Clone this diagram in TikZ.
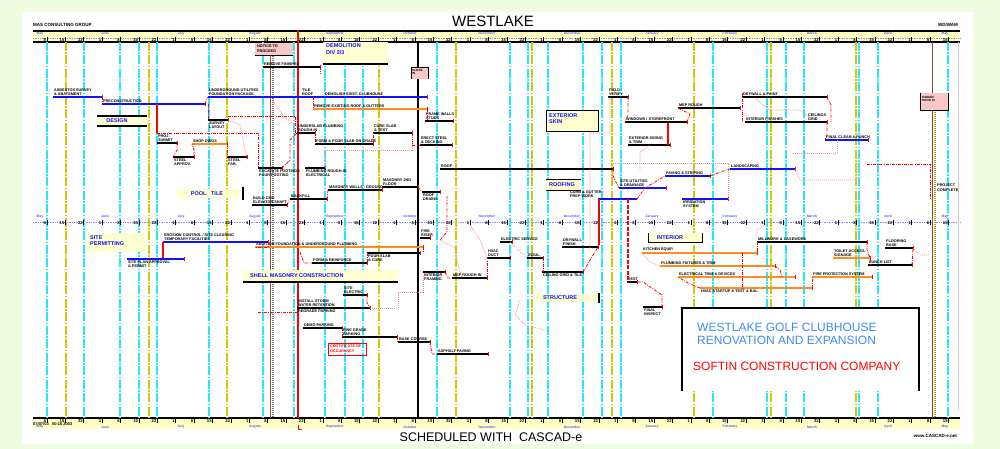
\documentclass[tikz,border=0pt]{standalone}
\usepackage{fontspec}
\setmainfont{Liberation Sans}
\definecolor{bgc}{HTML}{F0FCE0}
\definecolor{cy}{HTML}{22E8FF}
\definecolor{ol}{HTML}{CCCC00}
\definecolor{bandy}{HTML}{FFFFC4}
\definecolor{boxy}{HTML}{FFFFD0}
\definecolor{pinkf}{HTML}{F8C8C8}
\definecolor{og}{HTML}{FF8C1E}
\definecolor{bl}{HTML}{1010FF}
\definecolor{lblue}{HTML}{3C8CF0}
\definecolor{brn}{HTML}{8B4A3A}
\newcommand\gbA[5]{\draw[#1] (#2,#4) -- (#3,#4); \draw[red,line width=0.7pt] (#3,#4-1.8) -- (#3,#4+1.8); \node[lab,anchor=south west] at (#2+1,#4-1.3) {#5};}
\newcommand\gbU[5]{\draw[#1] (#2,#4) -- (#3,#4); \draw[red,line width=0.7pt] (#3,#4-1.8) -- (#3,#4+1.8); \node[lab,anchor=north west] at (#2+1,#4+1.7) {#5};}
\begin{document}
\begin{tikzpicture}[x=1pt,y=-1pt,
 lab/.style={font=\fontsize{3.8}{4.2}\selectfont\bfseries, inner sep=0pt, align=left, text=black},
 kb/.style={line width=1.5pt,black},
 kbb/.style={line width=2.2pt,black},
 bb/.style={line width=1.8pt,bl},
 ob/.style={line width=1.8pt,og},
 obb/.style={line width=2.4pt,og},
 rdc/.style={red,line width=0.8pt,dash pattern=on 3pt off 1.2pt on 0.8pt off 1.2pt},
 pdc/.style={red!45,line width=0.7pt,dash pattern=on 1pt off 1pt},
 cyl/.style={cy,line width=1.3pt,dash pattern=on 9pt off 1.5pt on 1.5pt off 1.5pt},
 oll/.style={ol,line width=1.4pt,dash pattern=on 9pt off 1.5pt on 1.5pt off 1.5pt},
 boxt/.style={font=\fontsize{5.5}{6.5}\selectfont\bfseries, text=bl, inner sep=0pt, align=left},
 mon/.style={font=\fontsize{3.4}{3.6}\selectfont\bfseries, text=bl!70, inner sep=0pt},
 tck/.style={font=\fontsize{4.2}{4.4}\selectfont\bfseries, inner sep=0pt}
]
\useasboundingbox (0,0) rectangle (1000,449);
\fill[bgc] (0,0) rectangle (1000,449);
\fill[white] (22,12) rectangle (973,444);

% header / footer texts
\node[font=\fontsize{15}{15}\selectfont] (title) at (493,21) {WESTLAKE};
\node[font=\fontsize{4.5}{5}\selectfont\bfseries, anchor=west, inner sep=0] (firm) at (33,24.5) {MAS CONSULTING GROUP};
\node[font=\fontsize{4.5}{5}\selectfont\bfseries, anchor=east, inner sep=0] (code) at (958,24.5) {WD/WAM};
\node[font=\fontsize{12.5}{13}\selectfont] (sched) at (491,437) {SCHEDULED WITH\ \ CASCAD-e};
\node[font=\fontsize{4.5}{5}\selectfont\bfseries, anchor=east, inner sep=0] (web) at (957,436) {www.CASCAD-e.net};

% bands
\fill[bandy] (33,31) rectangle (960,42);
\fill[bandy] (33,418) rectangle (960,429);
\draw[line width=1.2pt] (33,31) -- (960,31);
\draw[line width=1.5pt] (33,42) -- (960,42);
\draw[line width=1.5pt] (33,418) -- (960,418);
\draw[bl!50,densely dotted,line width=0.7pt] (33,38.5) -- (960,38.5);
\draw[bl!50,densely dotted,line width=0.7pt] (33,222.5) -- (960,222.5);
\node[font=\fontsize{4}{4.5}\selectfont\bfseries, anchor=west, inner sep=0] (date) at (33,424.5) {07/07/03\ \ \ 00:16 2003};

% grid lines
\foreach \x in {47,84,120,139,157,209,263,294,325,345,363,437,510,528,548,583,602,621,713,767,786,804,859,878,948}
  \draw[cyl] (\x,42) -- (\x,418);
\foreach \x in {66,227,379,456,532,612,694,771,856}
  \draw[oll] (\x,42) -- (\x,418);
\draw[oll,line width=2.2pt] (149,42) -- (149,418);
\draw[black!20,line width=1pt] (958,42) -- (958,410);

% ticks and date numbers
\foreach \x [count=\i] in {47,65.4,...,950} {
  \pgfmathtruncatemacro\d{mod(\i*7,28)+1}
  \draw[line width=1pt] (\x,37.5) -- (\x,42);
  \node[tck,anchor=east] at (\x-0.8,39.8) {\d};
  \draw[line width=1pt] (\x,220) -- (\x,225);
  \node[tck,anchor=east] at (\x-0.8,223) {\d};
  \draw[line width=1pt] (\x,418) -- (\x,422.5);
  \node[tck,anchor=east] at (\x-0.8,420.6) {\d};
}
\foreach \x/\m in {40/May,105/June,181/July,255/August,335/September,410/October,487/November,572/December,652/January,730/February,812/March,888/April,945/May} {
  \node[mon] at (\x,33.5) {\m};
  \node[mon] at (\x,216.5) {\m};
  \node[mon] at (\x,427) {\m};
}

% special vertical lines
\draw[brn,line width=0.9pt] (270,56) -- (270,418);
\draw[black!55,line width=1.8pt,dash pattern=on 1pt off 1pt] (272.6,56) -- (272.6,418);
\draw[red,line width=1.3pt] (298,30) -- (298,418);
\draw[red,line width=0.8pt] (298,425) -- (298,429) -- (302,429);
\draw[black,line width=2pt] (418,42) -- (418,418);
\draw[brn,line width=0.9pt] (932,42) -- (932,93);
\draw[brn,line width=0.9pt] (932,110) -- (932,418);
\draw[ol!80!black,line width=1.8pt,dash pattern=on 1pt off 1pt] (934.6,110) -- (934.6,418);

% pink milestone boxes
\fill[pinkf] (255,43) rectangle (293,56);
\draw[line width=1pt] (255,56) -- (293,56);
\node[lab,anchor=north west] (ms1) at (257,45) {NOTICE TO\\PROCEED};
\fill[pinkf] (411,67) rectangle (428,79);
\draw[line width=0.8pt] (411,79) -- (411,67) -- (428,67) -- (428,79);
\node[lab,anchor=north west,font=\fontsize{3}{3.4}\selectfont\bfseries] (ms2) at (412,69) {CLOSE\\IN};
\fill[pinkf] (920,93) rectangle (948,110);
\draw[line width=0.8pt] (920,93) -- (920,110) -- (948,110) -- (948,93);
\node[lab,anchor=north west,font=\fontsize{3}{3.4}\selectfont\bfseries] (ms3) at (922,96) {OWNER\\MOVE IN};
\node[lab,anchor=north west] (ms4) at (937,184) {PROJECT\\COMPLETE};

% yellow section boxes
\fill[boxy] (323,42) rectangle (388,64);
\draw[line width=1.2pt] (323,64) -- (388,64);
\node[boxt,anchor=north west] (demo) at (326,43.5) {DEMOLITION\\DIV 2/3};
\fill[boxy] (97,116) rectangle (147,126);
\draw[line width=1.2pt] (97,116) -- (147,116) (97,126) -- (147,126);
\node[boxt] (design) at (117,121) {DESIGN};
\fill[boxy] (177,189) rectangle (241,198);
\draw[line width=1.2pt] (243,187) -- (243,200);
\node[boxt] (tile) at (207,193.5) {POOL\ \ \ TILE};
\fill[boxy] (87,233) rectangle (145,252);
\node[boxt,anchor=north west] (permit) at (90,235) {SITE\\PERMITTING};
\fill[boxy] (243,270) rectangle (398,281);
\draw[line width=1.2pt] (243,282) -- (398,282);
\node[boxt,anchor=west] (shell) at (250,275.5) {SHELL MASONRY CONSTRUCTION};
\fill[boxy] (546,111) rectangle (598,132);
\draw[line width=1pt] (546,111) rectangle (598,132);
\node[boxt,anchor=north west] (ext) at (549,113) {EXTERIOR\\SKIN};
\fill[boxy] (546,179) rectangle (581,190);
\draw[line width=1pt] (546,179) -- (581,179) (546,190) -- (581,190);
\node[boxt] (roof) at (562,184.5) {ROOFING};
\fill[boxy] (648,233) rectangle (702,242);
\draw[line width=1pt] (648,233) -- (648,242) -- (702,242) -- (702,233);
\node[boxt] (int) at (670,237.5) {INTERIOR};
\fill[boxy] (535,294) rectangle (597,302);
\draw[line width=1.2pt] (599,293) -- (599,303);
\node[boxt] (struct) at (560,298) {STRUCTURE};
\draw[red,line width=0.8pt] (328,343) rectangle (366,355);
\node[lab,text=red,anchor=north west] (redbox) at (330,345) {CERTIFICATE OF\\OCCUPANCY};

% ---- bars: top area
\gbA{bb}{53}{102}{97}{ASBESTOS SURVEY\\\& ABATEMENT}
\gbA{bb}{102}{205}{104}{PRECONSTRUCTION}
\gbA{bb}{208}{427}{97}{UNDERGROUND UTILITIES\\FOUNDATION PACKAGE}
\node[lab,anchor=south west] (l1) at (302,95.5) {TILE\\ROOF};
\node[lab,anchor=south west] (l2) at (325,95.5) {DEMOLISH EXIST. CLUBHOUSE};
\gbA{ob}{313}{427}{109}{REMOVE EXISTING ROOF \& GUTTERS}
\gbA{kbb}{263}{320}{67}{REMOVE FINISHES}
\gbU{kb}{208}{228}{120}{SURVEY\\LAYOUT}
\gbA{kb}{157}{177}{143}{PROJ.\\SUBMIT}
\gbA{ob}{192}{227}{144}{SHOP DWGS}
\gbU{kb}{173}{194}{157}{STEEL\\APPROV.}
\gbU{kb}{227}{247}{157}{STEEL\\FAB.}
\gbU{kb}{258}{282}{168}{EXCAVATE FOOTINGS\\POUR FOOTING}
\gbA{kb}{297}{315}{133}{UNDERSLAB PLUMBING\\ROUGH-IN}
\gbA{kb}{315}{373}{144}{FORM \& POUR SLAB ON GRADE}
\gbA{kb}{373}{412}{133}{CURE SLAB\\\& TEST}
\gbA{kb}{420}{452}{145}{ERECT STEEL\\\& DECKING}
\gbA{kb}{425}{453}{121}{FRAME WALLS\\STUDS}
\gbU{kb}{305}{325}{168}{PLUMBING ROUGH-IN\\ELECTRICAL}
\gbA{kbb}{328}{382}{190}{MASONRY WALLS - GROUND}
\gbA{kb}{382}{418}{187}{MASONRY 2ND\\FLOOR}
\gbA{kb}{290}{327}{199}{BACKFILL}
\gbA{kbb}{252}{287}{205}{BUILD CMU\\ELEVATOR SHAFT}
\gbA{kb}{440}{613}{169}{ROOF}
\gbU{kb}{422}{440}{192}{ROOF\\DRAINS}
\gbA{kb}{608}{628}{97}{FIELD\\VERIFY}
\gbA{kb}{678}{740}{108}{MEP ROUGH}
\gbA{kb}{742}{827}{97}{DRYWALL \& PAINT}
\gbA{kb}{625}{687}{122}{WINDOWS / STOREFRONT}
\gbA{kb}{628}{670}{145}{EXTERIOR SIDING\\\& TRIM}
\gbA{kb}{745}{827}{122}{INTERIOR FINISHES}
\node[lab,anchor=south west] (l3) at (808,120.5) {CEILINGS\\GRID};
\gbA{bb}{825}{868}{140}{FINAL CLEAN \& PUNCH}
\gbA{bb}{730}{795}{169}{LANDSCAPING}
\gbA{bb}{665}{710}{176}{PAVING \& STRIPING}
\gbA{bb}{619}{666}{188}{SITE UTILITIES\\\& DRAINAGE}
\draw[bb] (598,199) -- (637,199);
\node[lab,anchor=south west] (l4) at (570,197.8) {CURB \& GUTTER\\PREP WORK};
\gbU{bb}{682}{728}{199}{IRRIGATION\\SYSTEM}

% ---- bars: lower area
\gbA{bb}{163}{268}{242}{EROSION CONTROL / SITE CLEARING\\TEMPORARY FACILITIES}
\gbU{bb}{127}{184}{259}{SITE PLAN APPROVAL\\\& PERMIT}
\gbA{ob}{255}{423}{247}{ADDITION FOUNDATION \& UNDERGROUND PLUMBING}
\gbU{kb}{367}{420}{253}{POUR SLAB\\\& CURE}
\gbA{kb}{312}{367}{263}{FORM \& REINFORCE}
\gbA{kb}{343}{367}{295}{SITE\\ELECTRIC}
\gbA{kb}{297}{370}{308}{INSTALL STORM\\WATER RETENTION}
\node[lab,anchor=north west] (l5) at (298,310) {REGRADE PARKING};
\gbA{kb}{303}{342}{328}{DEMO PARKING}
\gbA{kb}{342}{397}{337}{FINE GRADE\\PARKING}
\gbA{kb}{398}{430}{342}{BASE COURSE}
\gbA{kb}{437}{488}{354}{ASPHALT PAVING}
\gbU{kb}{423}{445}{272}{INTERIOR\\FRAMING}
\gbA{kb}{452}{487}{278}{MEP ROUGH-IN}
\gbA{kb}{420}{430}{238}{FIRE\\RISER}
\gbA{kb}{487}{510}{258}{HVAC\\DUCT}
\gbA{kb}{500}{512}{242}{ELECTRIC SERVICE}
\gbA{kb}{562}{598}{247}{DRYWALL\\FINISH}
\gbA{kb}{527}{543}{258}{INSUL.}
\gbU{kb}{542}{583}{272}{CEILING GRID \& TILE}
\gbA{kb}{627}{637}{282}{TEST}
\gbU{kb}{643}{662}{307}{FINAL\\INSPECT}
\gbA{kb}{757}{867}{242}{MILLWORK \& CASEWORK}
\gbA{kb}{885}{913}{248}{FLOORING\\BASE}
\gbA{kb}{868}{912}{265}{PUNCH LIST}
\gbA{ob}{642}{757}{253}{KITCHEN EQUIP.}
\gbA{ob}{660}{775}{266}{PLUMBING FIXTURES \& TRIM}
\gbA{obb}{678}{795}{277}{ELECTRICAL TRIM \& DEVICES}
\gbU{ob}{700}{812}{288}{HVAC STARTUP \& TEST \& BAL.}
\gbA{ob}{812}{872}{277}{FIRE PROTECTION SYSTEM}
\gbA{ob}{833}{870}{258}{TOILET ACCESS.\\SIGNAGE}

% ---- solid red links
\draw[red,line width=1.1pt] (157,104) -- (157,133);
\draw[red,line width=1.1pt] (163,242) -- (163,258);
\draw[red,line width=1.1pt] (599,199) -- (599,245);
\draw[red,line width=1.1pt,dash pattern=on 4pt off 1.5pt] (628,199) -- (628,283);
\draw[red,line width=1.1pt] (668,123) -- (668,145);

% ---- dashed red links
\draw[rdc] (102,97) -- (102,104);
\draw[rdc] (205,104) -- (208,97);
\draw[rdc] (208,104) -- (208,120);
\draw[rdc] (228,116) -- (295,116) -- (295,133) -- (297,133);
\draw[rdc] (157,133) -- (258,133) -- (258,168);
\draw[rdc] (177,143) -- (177,150) -- (173,157);
\draw[rdc] (194,157) -- (194,150) -- (192,144);
\draw[rdc] (227,144) -- (227,157);
\draw[rdc] (320,67) -- (320,74);
\draw[rdc] (313,97) -- (313,109);
\draw[rdc] (427,109) -- (427,121);
\draw[rdc] (282,168) -- (290,160) -- (290,140) -- (297,133);
\draw[rdc] (315,133) -- (315,144);
\draw[rdc] (373,144) -- (373,133);
\draw[rdc] (412,133) -- (412,145) -- (420,145);
\draw[rdc] (382,190) -- (382,187);
\draw[rdc] (418,187) -- (422,192);
\draw[rdc] (447,196) -- (447,232) -- (440,240);
\draw[rdc] (287,205) -- (290,199);
\draw[rdc] (327,199) -- (328,190);
\draw[rdc] (268,242) -- (268,247) -- (255,247);
\draw[rdc] (423,247) -- (423,253);
\draw[rdc] (367,253) -- (367,263);
\draw[rdc] (300,252) -- (304,263) -- (312,263);
\draw[rdc] (258,312) -- (297,312);
\draw[rdc] (367,295) -- (367,303) -- (370,308);
\draw[rdc] (342,328) -- (342,337);
\draw[rdc] (397,337) -- (397,342);
\draw[rdc] (430,342) -- (432,354) -- (437,354);
\draw[rdc] (445,272) -- (448,278) -- (452,278);
\draw[rdc] (487,278) -- (487,258);
\draw[rdc] (543,258) -- (543,272);
\draw[rdc] (583,272) -- (590,260) -- (598,247);
\draw[rdc] (613,169) -- (613,176) -- (619,188);
\draw[rdc] (637,199) -- (645,188) -- (665,176);
\draw[rdc] (710,176) -- (720,172) -- (730,169);
\draw[rdc] (628,97) -- (628,115) -- (625,122);
\draw[rdc] (687,122) -- (690,114) -- (678,108);
\draw[rdc] (742,93) -- (742,122);
\draw[rdc] (827,97) -- (831,105) -- (831,122);
\draw[rdc] (827,122) -- (827,135) -- (825,140);
\draw[rdc] (867,164) -- (930,164) -- (930,200);
\draw[rdc] (742,253) -- (742,290);
\draw[rdc] (775,266) -- (780,270) -- (782,277);
\draw[rdc] (867,242) -- (867,250) -- (870,258);
\draw[rdc] (870,258) -- (870,265);
\draw[rdc] (912,265) -- (913,248);
\draw[rdc] (812,288) -- (812,277);
\draw[rdc] (662,307) -- (662,295) -- (643,282) -- (637,282);
\draw[rdc] (757,242) -- (757,253);
\draw[rdc] (700,288) -- (688,283) -- (678,277);

% ---- pink dotted links
\draw[pdc] (228,120) -- (240,125) -- (245,150) -- (247,157);
\draw[pdc] (297,126) -- (285,118) -- (272,100);
\draw[pdc] (325,168) -- (325,150) -- (412,150) -- (412,140);
\draw[pdc] (370,308) -- (398,308) -- (398,292) -- (423,292) -- (423,276);
\draw[pdc] (440,240) -- (455,248) -- (458,265) -- (462,278);
\draw[pdc] (510,242) -- (520,252) -- (527,258);
\draw[pdc] (590,250) -- (590,133) -- (610,133) -- (610,100) -- (608,97);
\draw[pdc] (613,163) -- (728,163) -- (728,199);
\draw[pdc] (640,170) -- (640,152) -- (650,145);
\draw[pdc] (793,153) -- (837,153) -- (837,140);
\draw[pdc] (756,99) -- (770,110) -- (800,110) -- (810,118);
\draw[pdc] (913,248) -- (920,255) -- (930,255);
\draw[pdc] (660,266) -- (650,262) -- (642,253);
\draw[pdc] (757,237) -- (757,230) -- (772,220);
\draw[pdc] (795,169) -- (800,180) -- (860,180);
\draw[pdc] (520,300) -- (515,315) -- (525,325) -- (545,330);
\draw[pdc] (487,258) -- (480,240) -- (470,225);

% legend box
\fill[white] (682,308) rectangle (919,391);
\draw[line width=1.3pt] (682,391) -- (682,308) -- (919,308) -- (919,391);
\node[font=\fontsize{12}{13}\selectfont, text=lblue, anchor=north west, align=left, inner sep=0] (leg1) at (697,323) {WESTLAKE GOLF CLUBHOUSE\\RENOVATION AND EXPANSION};
\node[font=\fontsize{12}{13}\selectfont, text=red, anchor=west, inner sep=0] (leg2) at (693,366) {SOFTIN CONSTRUCTION COMPANY};
\end{tikzpicture}
\end{document}
